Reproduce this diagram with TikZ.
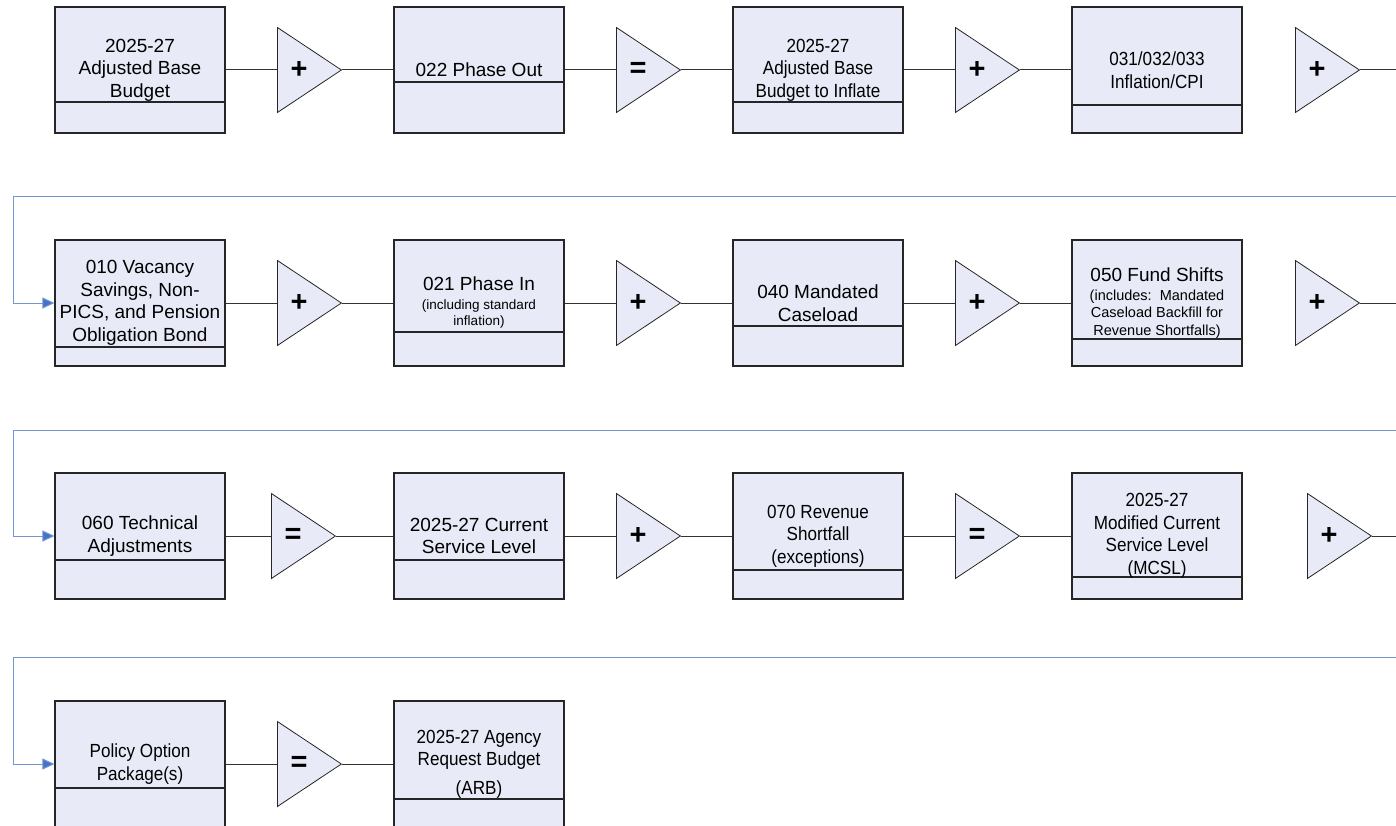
\documentclass[tikz,border=0pt]{standalone}
\usepackage{fontspec}
\setmainfont{Liberation Sans}
\newfontfamily\narrowfont[FakeStretch=0.9]{Liberation Sans}
\usetikzlibrary{shapes.geometric, arrows.meta}

\definecolor{boxfill}{RGB}{232,235,247}
\definecolor{wrapblue}{RGB}{68,114,196}
\definecolor{wrapline}{RGB}{115,150,212}

\newcommand{\boxfont}{\fontsize{19}{22.5}\selectfont}
\newcommand{\notefont}{\fontsize{13.5}{16}\selectfont}
\newcommand{\midfont}{\fontsize{14.5}{17}\selectfont}

\begin{document}
\begin{tikzpicture}[x=1pt, y=-1pt,
            box/.style={draw=black!85, fill=boxfill, line width=1.1pt, minimum width=170pt,
                    minimum height=126pt, inner sep=0pt, align=center, font=\boxfont,
                    path picture={\draw[black!85, line width=1.1pt]
                        ([yshift=#1]path picture bounding box.south west) --
                        ([yshift=#1]path picture bounding box.south east);}},
            box/.default=31pt,
            narrow/.style={font=\narrowfont\boxfont},
            sum/.style={isosceles triangle, isosceles triangle stretches, shape border rotate=0,
                    draw=black!85, fill=boxfill, line width=0.8pt, minimum width=85pt,
                    minimum height=64pt, inner sep=0pt, anchor=west},
            sign/.style={font=\fontsize{29}{29}\selectfont\bfseries, inner sep=0pt},
            link/.style={black!80, line width=1pt},
            wrap/.style={wrapline, line width=1pt, -{Triangle[length=12pt, width=11pt, fill=wrapblue]}}
        ]
        \useasboundingbox (0,0) rectangle (1396,826);

        % row 1
        \node[box=31pt] (b1) at (140,70) {2025-27\\Adjusted Base\\Budget};
        \node[box=51pt] (b2) at (479,70) {022 Phase Out};
        \node[box=31pt, narrow] (b3) at (818,70) {2025-27\\Adjusted Base\\Budget to Inflate};
        \node[box=28pt, narrow] (b4) at (1157,70) {031/032/033\\Inflation/CPI};
        % row 2
        \node[box=19pt] (b5) at (140,303) {010 Vacancy\\Savings, Non-\\PICS, and Pension\\Obligation Bond};
        \node[box=34pt] (b6) at (479,303) {021 Phase In\\[-3.5pt]\notefont (including standard\\[-6.5pt]\notefont inflation)};
        \node[box=40pt] (b7) at (818,303) {040 Mandated\\Caseload};
        \node[box=27pt] (b8) at (1157,303) {050 Fund Shifts\\[-4pt]\midfont (includes:~~Mandated\\[-5pt]\midfont Caseload Backfill for\\[-5pt]\midfont Revenue Shortfalls)};
        % row 3
        \node[box=39pt] (b9) at (140,536) {060 Technical\\Adjustments};
        \node[box=39pt] (b10) at (479,536) {2025-27 Current\\Service Level};
        \node[box=29pt, narrow] (b11) at (818,536) {070 Revenue\\Shortfall\\(exceptions)};
        \node[box=22pt, narrow] (b12) at (1157,536) {2025-27\\Modified Current\\Service Level\\(MCSL)};
        % row 4
        \node[box=39pt, narrow] (b13) at (140,764) {Policy Option\\Package(s)};
        \node[box=28pt, narrow] (b14) at (479,764) {2025-27 Agency\\Request Budget\\[6pt](ARB)};

        \foreach \n/\x/\y/\s in {1/277/70/+, 2/616/70/=, 3/955/70/+, 4/1295/70/+,
                5/277/303/+, 6/616/303/+, 7/955/303/+, 8/1295/303/+,
                9/271/536/=, 10/616/536/+, 11/955/536/=, 12/1307/536/+, 13/277/764/=}{
            \node[sum] (t\n) at (\x,\y) {};
            \node[sign] (s\n) at ([xshift=22pt]t\n.west) {\s};
        }

        \foreach \a/\b in {1/2, 2/3, 3/4, 5/6, 6/7, 7/8, 9/10, 10/11, 11/12, 13/14}
            \draw[link] (b\a.east) -- (t\a.west) (t\a.east) -- (b\b.west);

        % row ends and wrap-around
        \coordinate (e1) at (1396,70);
        \coordinate (e2) at (1396,303);
        \coordinate (e3) at (1396,536);
        \draw[link] (t4.east) -- (e1);
        \draw[link] (t8.east) -- (e2);
        \draw[link] (t12.east) -- (e3);

        \coordinate (w1) at (1396,197);
        \coordinate (w2) at (1396,430);
        \coordinate (w3) at (1396,657);
        \coordinate (c1) at (13,197);
        \coordinate (c2) at (13,430);
        \coordinate (c3) at (13,657);
        \draw[wrap] (w1) -- (c1) |- (b5.west);
        \draw[wrap] (w2) -- (c2) |- (b9.west);
        \draw[wrap] (w3) -- (c3) |- (b13.west);
    \end{tikzpicture}
\end{document}
